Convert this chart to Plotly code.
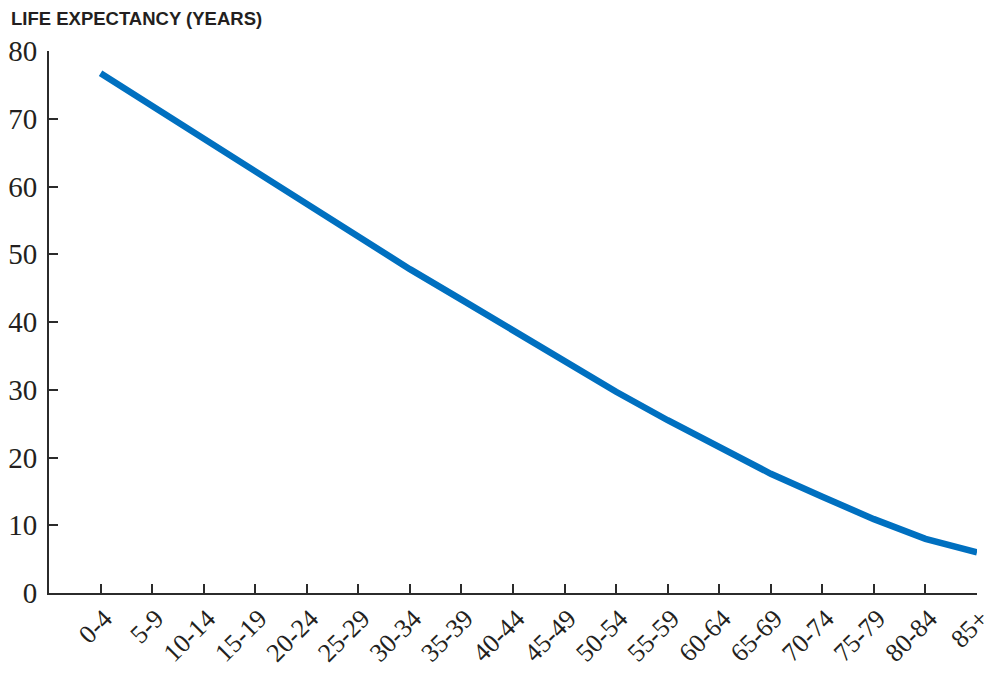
import plotly.graph_objects as go

age_groups = ["0-4", "5-9", "10-14", "15-19", "20-24", "25-29", "30-34", "35-39",
              "40-44", "45-49", "50-54", "55-59", "60-64", "65-69", "70-74",
              "75-79", "80-84", "85+"]
life_expectancy = [76.7, 71.9, 67.0, 62.2, 57.4, 52.6, 47.8, 43.3, 38.8, 34.2,
                   29.7, 25.5, 21.5, 17.6, 14.2, 10.9, 8.0, 6.0]
y_ticks = [0, 10, 20, 30, 40, 50, 60, 70, 80]
title_text = "LIFE EXPECTANCY (YEARS)"

idx = list(range(len(age_groups)))

# page body has an 8px margin; figure is sized so it fits the 995x673 window
L, T, PW, PH = 41, 43, 928, 542

fig = go.Figure()
fig.add_trace(go.Scatter(
    x=idx, y=life_expectancy, mode="lines",
    line=dict(color="#0070C0", width=6.5),
    showlegend=False, hoverinfo="skip",
))

axis_color = "#2b2b2b"
fig.update_xaxes(
    range=[-1, len(age_groups) - 1],
    tickmode="array", tickvals=idx, ticktext=age_groups,
    tickangle=-45,
    ticks="inside", ticklen=9, tickwidth=1.5, tickcolor=axis_color,
    showline=True, linecolor=axis_color, linewidth=2,
    showgrid=False, zeroline=False,
    ticklabelshift=4, ticklabelstandoff=-2, ticklabeloverflow="allow",
    tickfont=dict(family="Liberation Serif", size=26, color="#231F20"),
)
fig.update_yaxes(
    range=[0, 80],
    tickmode="array", tickvals=y_ticks,
    ticks="inside", ticklen=9, tickwidth=1.5, tickcolor=axis_color,
    showline=True, linecolor=axis_color, linewidth=2,
    showgrid=False, zeroline=False,
    ticklabelstandoff=4,
    tickfont=dict(family="Liberation Serif", size=29, color="#231F20"),
)
fig.add_annotation(
    text="<b>" + title_text + "</b>", xref="paper", yref="paper",
    x=(1 - L) / PW, y=1 + (T - 10.7) / PH, xanchor="left", yanchor="middle",
    showarrow=False, font=dict(family="Liberation Sans", size=18.5, color="#231F20"),
)
fig.update_layout(
    width=987, height=665,
    margin=dict(l=L, r=987 - L - PW, t=T, b=665 - T - PH, autoexpand=False),
    plot_bgcolor="white", paper_bgcolor="white",
)
fig.write_html("out.html")
